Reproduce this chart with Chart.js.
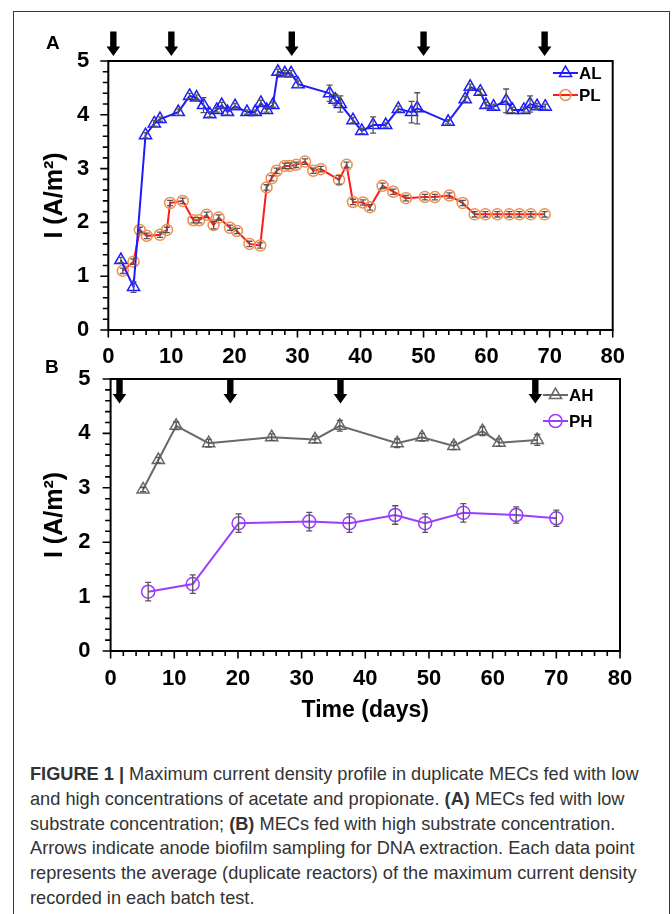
<!DOCTYPE html>
<html lang="en">
<head>
    <meta charset="UTF-8">
    <title>Maximum current density profile</title>
    <script src="https://cdn.jsdelivr.net/npm/chart.js"></script>
    <style>
        body { margin: 0; background: #fff; }
        #page { position: relative; width: 672px; height: 914px; overflow: hidden; font-family: "Liberation Sans", Arial, sans-serif; }
        #frame { position: absolute; left: 13px; top: 11px; width: 655px; height: 1000px; border: 1.5px solid #3a3a3a; }
        canvas { position: absolute; left: 0; }
        .panel-label { position: absolute; font-weight: bold; font-size: 19px; color: #000; }
        .caption { position: absolute; left: 30px; top: 762px; font-size: 18.2px; line-height: 24.8px; color: #333; white-space: nowrap; }
    </style>
</head>
<body>
<div id="page">
    <div id="frame"></div>
    <canvas id="chartA" width="672" height="380" style="top:0;width:672px;height:380px"></canvas>
    <canvas id="chartB" width="672" height="380" style="top:360px;width:672px;height:380px"></canvas>
    <div class="panel-label" style="left:46px;top:32px">A</div>
    <div class="panel-label" style="left:45px;top:356px">B</div>
    <div class="caption">
        <div><b>FIGURE 1 |</b> Maximum current density profile in duplicate MECs fed with low</div>
        <div>and high concentrations of acetate and propionate. <b>(A)</b> MECs fed with low</div>
        <div>substrate concentration; <b>(B)</b> MECs fed with high substrate concentration.</div>
        <div>Arrows indicate anode biofilm sampling for DNA extraction. Each data point</div>
        <div>represents the average (duplicate reactors) of the maximum current density</div>
        <div>recorded in each batch test.</div>
    </div>
</div>

<script>
    // Panel A: low substrate concentration
    const alDays = [2.0, 4.0, 5.9, 7.3, 8.2, 11.1, 12.9, 14.0, 15.1, 16.1, 17.2, 18.0, 18.9, 20.1, 22.0,
        23.3, 24.2, 25.1, 26.1, 26.9, 28.0, 29.0, 30.1, 35.1, 36.0, 36.8, 38.8, 40.2, 42.0, 44.0,
        46.0, 48.1, 49.0, 53.9, 56.6, 57.4, 59.0, 59.9, 61.1, 63.1, 64.1, 65.9, 66.9, 68.0, 69.3];
    const alValues = [1.30, 0.80, 3.62, 3.84, 3.92, 4.05, 4.35, 4.32, 4.18, 4.01, 4.09, 4.18, 4.05, 4.16, 4.05,
        4.05, 4.22, 4.09, 4.18, 4.80, 4.77, 4.77, 4.57, 4.40, 4.28, 4.20, 3.90, 3.70, 3.81, 3.81,
        4.11, 4.05, 4.12, 3.87, 4.29, 4.52, 4.43, 4.18, 4.15, 4.26, 4.09, 4.09, 4.20, 4.16, 4.15];
    const alErr = [0.05, 0.10, 0.05, 0.05, 0.04, 0.06, 0.05, 0.05, 0.14, 0.05, 0.04, 0.05, 0.05, 0.05, 0.04,
        0.04, 0.05, 0.04, 0.04, 0.05, 0.05, 0.05, 0.06, 0.15, 0.10, 0.15, 0.05, 0.05, 0.15, 0.04,
        0.05, 0.20, 0.29, 0.04, 0.05, 0.05, 0.05, 0.05, 0.05, 0.22, 0.05, 0.04, 0.15, 0.05, 0.05];

    const plDays = [2.3, 4.0, 5.0, 6.1, 8.2, 9.3, 9.8, 11.8, 13.5, 14.4, 15.6, 16.7, 17.5, 19.3, 20.4,
        22.4, 24.1, 25.1, 25.9, 26.7, 28.0, 28.8, 29.8, 31.2, 32.5, 33.7, 36.6, 37.8, 38.8, 40.4,
        41.5, 43.5, 45.2, 47.2, 50.2, 51.8, 54.1, 56.2, 58.1, 59.8, 61.7, 63.6, 65.2, 67.0, 69.2];
    const plValues = [1.10, 1.27, 1.86, 1.75, 1.77, 1.86, 2.36, 2.40, 2.04, 2.04, 2.14, 1.95, 2.09, 1.90, 1.84,
        1.60, 1.57, 2.65, 2.82, 2.96, 3.05, 3.05, 3.07, 3.13, 2.96, 2.99, 2.79, 3.07, 2.38, 2.37,
        2.28, 2.68, 2.57, 2.45, 2.47, 2.47, 2.50, 2.36, 2.15, 2.15, 2.15, 2.15, 2.15, 2.15, 2.15];
    const plErr = [0.05, 0.05, 0.05, 0.05, 0.05, 0.05, 0.05, 0.05, 0.05, 0.05, 0.05, 0.07, 0.05, 0.05, 0.05,
        0.05, 0.05, 0.05, 0.05, 0.05, 0.05, 0.05, 0.05, 0.05, 0.05, 0.05, 0.08, 0.05, 0.05, 0.05,
        0.05, 0.05, 0.05, 0.05, 0.05, 0.05, 0.05, 0.05, 0.05, 0.05, 0.05, 0.05, 0.05, 0.05, 0.05];

    // Panel B: high substrate concentration
    const ahDays = [5.1, 7.5, 10.3, 15.4, 25.3, 32.1, 36.0, 45.0, 48.9, 53.9, 58.4, 61.0, 67.0];
    const ahValues = [2.97, 3.51, 4.14, 3.82, 3.93, 3.89, 4.14, 3.82, 3.93, 3.77, 4.04, 3.83, 3.88];
    const ahErr = [0.04, 0.05, 0.07, 0.07, 0.06, 0.06, 0.10, 0.08, 0.07, 0.07, 0.08, 0.07, 0.10];

    const phDays = [5.9, 12.9, 20.1, 31.2, 37.5, 44.7, 49.4, 55.4, 63.7, 70.0];
    const phValues = [1.09, 1.23, 2.35, 2.38, 2.35, 2.50, 2.35, 2.54, 2.50, 2.44];
    const phErr = [0.17, 0.17, 0.17, 0.17, 0.17, 0.17, 0.17, 0.17, 0.15, 0.15];

    // Sampling days (arrows)
    const arrowDaysA = [0.8, 10.0, 29.1, 50.0, 69.2];
    const arrowDaysB = [1.4, 18.8, 36.1, 66.7];

    const xMin = 0, xMax = 80, xStep = 10, xMinor = 2;
    const yMin = 0, yMax = 5, yStep = 1, yMinor = 0.2;

    const FONT = '"Liberation Sans", Arial, sans-serif';
    const BLUE = '#1c1cff';
    const RED = '#ff1a1a';
    const ORANGE = '#ef8f4f';
    const GRAY = '#696969';
    const PURPLE = '#9b3dff';
    const ERR = '#555555';

    function points(days, values) {
        return days.map((d, i) => ({ x: d, y: values[i] }));
    }

    function drawMarker(ctx, style, x, y, r) {
        ctx.beginPath();
        if (style === 'triangle') {
            const a = 2 * Math.PI / 3;
            ctx.moveTo(x, y - r);
            ctx.lineTo(x + r * Math.sin(a), y - r * Math.cos(a));
            ctx.lineTo(x + r * Math.sin(2 * a), y - r * Math.cos(2 * a));
            ctx.closePath();
        } else {
            ctx.arc(x, y, r, 0, 2 * Math.PI);
        }
        ctx.stroke();
    }

    // frame, minor ticks, error bars, arrows and legend
    function panelPlugin(cfg) {
        return {
            id: 'panel',
            afterDatasetsDraw(chart) {
                const ctx = chart.ctx;
                const xs = chart.scales.x, ys = chart.scales.y;
                ctx.save();
                ctx.strokeStyle = ERR;
                ctx.lineWidth = 1.3;
                chart.data.datasets.forEach(ds => {
                    ds.data.forEach((p, i) => {
                        const e = ds.errors[i];
                        const px = xs.getPixelForValue(p.x);
                        const y1 = ys.getPixelForValue(p.y + e);
                        const y2 = ys.getPixelForValue(p.y - e);
                        ctx.beginPath();
                        ctx.moveTo(px, y1); ctx.lineTo(px, y2);
                        ctx.moveTo(px - 3, y1); ctx.lineTo(px + 3, y1);
                        ctx.moveTo(px - 3, y2); ctx.lineTo(px + 3, y2);
                        ctx.stroke();
                    });
                });
                ctx.restore();
            },
            afterDraw(chart) {
                const ctx = chart.ctx;
                const a = chart.chartArea;
                const xs = chart.scales.x, ys = chart.scales.y;
                ctx.save();
                ctx.strokeStyle = '#000';
                ctx.lineWidth = 2;
                ctx.strokeRect(a.left, a.top, a.right - a.left, a.bottom - a.top);

                ctx.lineWidth = 1.6;
                ctx.beginPath();
                for (let v = xMin; v <= xMax + 1e-9; v += xMinor) {
                    const px = xs.getPixelForValue(v);
                    const len = Math.abs(v % xStep) < 1e-6 ? 7.5 : 5;
                    ctx.moveTo(px, a.bottom); ctx.lineTo(px, a.bottom + len);
                }
                for (let k = 0; k <= Math.round((yMax - yMin) / yMinor); k++) {
                    const v = yMin + k * yMinor;
                    const py = ys.getPixelForValue(v);
                    const len = k % 5 === 0 ? 8 : 5.5;
                    ctx.moveTo(a.left - len, py); ctx.lineTo(a.left, py);
                }
                ctx.stroke();

                // sampling arrows
                ctx.fillStyle = '#000';
                cfg.arrows.forEach(d => {
                    const px = xs.getPixelForValue(d);
                    const t = cfg.arrowTop;
                    ctx.fillRect(px - 3.2, t, 6.4, 15.5);
                    ctx.beginPath();
                    ctx.moveTo(px - 6.8, t + 15);
                    ctx.lineTo(px + 6.8, t + 15);
                    ctx.lineTo(px, t + 24.5);
                    ctx.closePath();
                    ctx.fill();
                });

                // legend
                chart.data.datasets.forEach((ds, i) => {
                    const ly = cfg.legendY[i];
                    const lx = cfg.legendX;
                    ctx.strokeStyle = ds.borderColor;
                    ctx.lineWidth = 2;
                    ctx.beginPath();
                    ctx.moveTo(lx, ly); ctx.lineTo(lx + 25, ly);
                    ctx.stroke();
                    ctx.strokeStyle = ds.pointBorderColor;
                    ctx.lineWidth = ds.pointBorderWidth;
                    drawMarker(ctx, ds.pointStyle, lx + 12.5, ly, ds.pointRadius);
                    ctx.fillStyle = '#000';
                    ctx.font = 'bold 17px ' + FONT;
                    ctx.textBaseline = 'middle';
                    ctx.fillText(ds.label, lx + 26, ly + 1);
                });
                ctx.restore();
            }
        };
    }

    function fixSize(size, horizontal) {
        return scale => {
            if (horizontal) scale.height = size; else scale.width = size;
            scale.paddingLeft = 0; scale.paddingRight = 0;
            scale.paddingTop = 0; scale.paddingBottom = 0;
        };
    }

    function lineSet(label, days, values, errors, color, markerColor, style, radius) {
        return {
            label: label,
            data: points(days, values),
            errors: errors,
            borderColor: color,
            borderWidth: 2,
            pointStyle: style,
            pointRadius: radius,
            pointBorderColor: markerColor,
            pointBackgroundColor: 'rgba(255,255,255,0)',
            pointBorderWidth: 1.5,
            tension: 0,
            fill: false
        };
    }

    function makeChart(id, datasets, opt) {
        return new Chart(document.getElementById(id), {
            type: 'line',
            data: { datasets: datasets },
            options: {
                responsive: false,
                animation: false,
                devicePixelRatio: 1,
                layout: { padding: opt.padding },
                plugins: { legend: { display: false }, tooltip: { enabled: false } },
                scales: {
                    x: {
                        type: 'linear', min: xMin, max: xMax,
                        grid: { display: false, drawTicks: false },
                        border: { display: false },
                        ticks: { stepSize: xStep, padding: opt.xPad, color: '#000', font: { family: FONT, size: 22, weight: 'bold' } },
                        title: opt.xTitle,
                        afterFit: fixSize(opt.xHeight, true)
                    },
                    y: {
                        min: yMin, max: yMax,
                        grid: { display: false, drawTicks: false },
                        border: { display: false },
                        ticks: { stepSize: yStep, padding: opt.yPad, color: '#000', font: { family: FONT, size: 22, weight: 'bold' } },
                        title: { display: true, text: 'I (A/m²)', color: '#000', padding: 0, font: { family: FONT, size: 25, weight: 'bold' } },
                        afterFit: fixSize(opt.yWidth, false)
                    }
                }
            },
            plugins: [panelPlugin(opt)]
        });
    }

    makeChart('chartA', [
        lineSet('AL', alDays, alValues, alErr, BLUE, BLUE, 'triangle', 7),
        lineSet('PL', plDays, plValues, plErr, RED, ORANGE, 'circle', 5.5)
    ], {
        padding: { left: 40, right: 59.3, top: 61, bottom: 10 },
        xHeight: 40, yWidth: 68.3, xPad: 14, yPad: 19,
        xTitle: { display: false },
        arrows: arrowDaysA, arrowTop: 31.5,
        legendX: 553, legendY: [73, 95]
    });

    makeChart('chartB', [
        lineSet('AH', ahDays, ahValues, ahErr, GRAY, GRAY, 'triangle', 7),
        lineSet('PH', phDays, phValues, phErr, PURPLE, PURPLE, 'circle', 6.5)
    ], {
        padding: { left: 40, right: 52, top: 19, bottom: 14 },
        xHeight: 75, yWidth: 70.6, xPad: 15, yPad: 20,
        xTitle: { display: true, text: 'Time (days)', color: '#000', padding: { top: 0, bottom: 2 }, font: { family: FONT, size: 23, weight: 'bold' } },
        arrows: arrowDaysB, arrowTop: 19,
        legendX: 543, legendY: [35, 61]
    });
</script>
</body>
</html>
